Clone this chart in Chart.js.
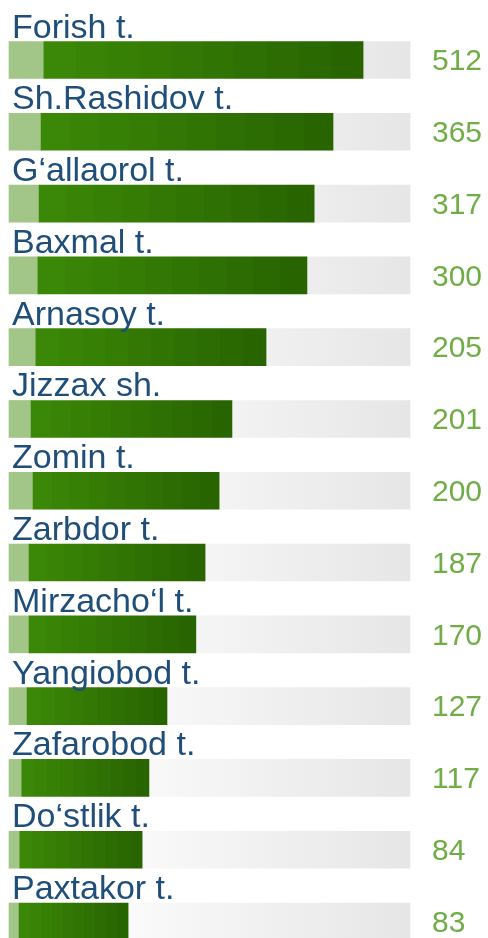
<!DOCTYPE html>
<html>
<head>
<meta charset="utf-8">
<script src="https://cdn.jsdelivr.net/npm/chart.js@4.4.0/dist/chart.umd.min.js"></script>
<style>
  html, body { margin: 0; padding: 0; background: #ffffff; }
  #wrap { width: 488px; height: 938px; }
</style>
</head>
<body>
<div id="wrap"><canvas id="bars" width="488" height="938"></canvas></div>
<script>
// districts, top to bottom
const districts = ['Forish t.', 'Sh.Rashidov t.', 'G\u2018allaorol t.', 'Baxmal t.', 'Arnasoy t.',
    'Jizzax sh.', 'Zomin t.', 'Zarbdor t.', 'Mirzacho\u2018l t.', 'Yangiobod t.',
    'Zafarobod t.', 'Do\u2018stlik t.', 'Paxtakor t.'];
// numbers printed at the right
const values = [512, 365, 317, 300, 205, 201, 200, 187, 170, 127, 117, 84, 83];
// drawn bar length, % of the grey track
const barLength = [88.3, 80.8, 76.1, 74.3, 64.1, 55.6, 52.4, 48.9, 46.6, 39.4, 34.9, 33.2, 29.7];
// light green start piece, % of the track
const baseLength = [8.7, 8.0, 7.5, 7.2, 6.7, 5.5, 6.0, 5.0, 5.0, 4.5, 3.2, 2.7, 2.5];
const trackLength = 100;

const labelColor = '#1f4e79';
const valueColor = '#70ad47';
const fontFamily = '"Liberation Sans", Arial, sans-serif';

//gradient helpers
function trackFill(ctx) {
    const chart = ctx.chart;
    const area = chart.chartArea;
    if (!area) return '#eeeeee';
    const g = chart.ctx.createLinearGradient(area.left, 0, area.right, 0);
    g.addColorStop(0, '#ffffff');
    g.addColorStop(0.3, '#fafafa');
    g.addColorStop(1, '#e6e6e6');
    return g;
}

function barFill(ctx) {
    const chart = ctx.chart;
    if (!chart.chartArea) return '#317a05';
    const x = chart.scales.x;
    const x0 = x.getPixelForValue(baseLength[ctx.dataIndex]);
    const x1 = x.getPixelForValue(barLength[ctx.dataIndex]);
    const g = chart.ctx.createLinearGradient(x0, 0, x1, 0);
    // stepped stops give the banded look of the original
    const steps = 10;
    for (let k = 0; k < steps; k++) {
        const t = k / (steps - 1);
        const r = Math.round(59 - t * 19);
        const gg = Math.round(136 - t * 36);
        const b = Math.round(8 - t * 8);
        const c = 'rgb(' + r + ',' + gg + ',' + b + ')';
        g.addColorStop(k / steps, c);
        g.addColorStop((k + 1) / steps - 0.001, c);
    }
    return g;
}

//text plugin
const textPlugin = {
    id: 'rowText',
    afterDatasetsDraw(chart) {
        const c = chart.ctx;
        const meta = chart.getDatasetMeta(0);
        const area = chart.chartArea;
        c.save();
        meta.data.forEach((bar, i) => {
            const top = bar.y - bar.height / 2;
            c.font = '34px ' + fontFamily;
            c.fillStyle = labelColor;
            c.textAlign = 'left';
            c.textBaseline = 'alphabetic';
            c.fillText(districts[i], area.left + 3, top - 4);

            c.font = '30px ' + fontFamily;
            c.fillStyle = valueColor;
            c.textBaseline = 'middle';
            c.fillText(String(values[i]), area.right + 22, bar.y + 2);
        });
        c.restore();
    }
};

//config
const config = {
    type: 'bar',
    data: {
        labels: districts,
        datasets: [
            {
                data: districts.map(() => [0, trackLength]),
                backgroundColor: trackFill,
                order: 3
            },
            {
                data: baseLength.map(v => [0, v]),
                backgroundColor: '#a1c687',
                order: 2
            },
            {
                data: barLength.map((v, i) => [baseLength[i], v]),
                backgroundColor: barFill,
                order: 1
            }
        ]
    },
    options: {
        indexAxis: 'y',
        responsive: false,
        animation: false,
        devicePixelRatio: 1,
        datasets: {
            bar: { grouped: false, barThickness: 37, borderWidth: 0, borderSkipped: false, clip: false }
        },
        layout: { padding: { left: 9, right: 78, top: 60, bottom: 16.5 } },
        scales: {
            x: { display: false, min: 0, max: trackLength },
            y: { display: false, offset: false }
        },
        plugins: {
            legend: { display: false },
            tooltip: { enabled: false }
        }
    },
    plugins: [textPlugin]
};

//render
const chart = new Chart(document.getElementById('bars'), config);
</script>
</body>
</html>
